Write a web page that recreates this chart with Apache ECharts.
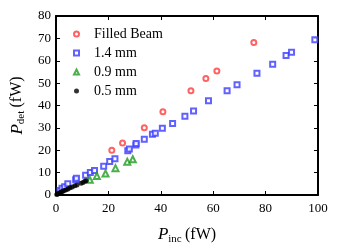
<!DOCTYPE html>
<html><head><meta charset="utf-8">
<script src="https://cdn.jsdelivr.net/npm/echarts@6/dist/echarts.min.js"></script>
<style>html,body{margin:0;padding:0;background:#fff}#c{width:338px;height:252px}</style>
</head><body><div id="c"></div>
<script>
const seriesNames = ['Filled Beam', '1.4 mm', '0.9 mm', '0.5 mm'];
const filledBeam = [[21.3,20.0],[25.4,23.2],[33.7,30.1],[40.8,37.2],[51.5,46.6],[57.2,52.1],[61.4,55.4],[75.5,68.2]];
const mm14 = [[1.5,2.0],[2.3,3.0],[3.3,3.7],[4.5,5.0],[7.5,6.8],[7.8,7.5],[11.3,8.8],[13.1,10.1],[14.7,11.0],[18.2,12.8],[20.5,15.0],[22.5,16.2],[27.4,19.8],[28.0,20.6],[30.5,22.3],[30.6,23.0],[33.7,24.9],[36.8,27.1],[37.9,27.6],[40.6,29.8],[44.5,32.0],[49.2,35.2],[52.5,37.5],[58.2,42.1],[65.3,46.6],[69.1,49.3],[76.7,54.4],[82.7,58.4],[87.8,62.4],[89.9,63.8],[98.8,69.4]];
const mm09 = [[12.9,6.8],[15.6,8.5],[18.9,9.6],[22.7,12.0],[27.2,14.9],[29.3,16.0]];
const mm05 = [[0.3,0.2],[0.6,0.4],[1.0,0.7],[1.5,1.0],[2.0,1.3],[2.6,1.7],[3.2,2.0],[3.9,2.4],[4.6,2.7],[5.4,3.2],[6.2,3.6],[7.2,4.1],[8.0,4.5],[9.6,5.2],[10.3,5.6],[11.0,6.1],[11.5,6.4]];
const xRange = [0, 100, 20];
const yRange = [0, 80, 10];

const font = 'Liberation Serif';
const chart = echarts.init(document.getElementById('c'));
const axisCommon = {
  axisLine:{show:true, onZero:false, lineStyle:{color:'#000', width:2}},
  axisTick:{show:true, inside:true, length:4, lineStyle:{color:'#000', width:1}},
  splitLine:{show:false}
};
chart.setOption({
  animation:false,
  backgroundColor:'#fff',
  grid:{left:56, right:20, top:16, bottom:57, containLabel:false},
  legend:{
    orient:'vertical', left:73, top:27, padding:0, itemGap:5, itemWidth:5, itemHeight:5,
    textStyle:{fontFamily:font, fontSize:14, color:'#000', padding:[0,0,0,10]},
    data:seriesNames
  },
  xAxis:[
    Object.assign({type:'value', min:xRange[0], max:xRange[1], interval:xRange[2], position:'bottom',
      axisLabel:{fontFamily:font, fontSize:13, color:'#000', margin:7},
      name:'{i|P}{s|inc} {u|(fW)}', nameLocation:'middle', nameGap:30,
      nameTextStyle:{rich:{
        i:{fontFamily:font, fontStyle:'italic', fontSize:17, color:'#000'},
        s:{fontFamily:font, fontSize:11, color:'#000', padding:[9,0,0,0]},
        u:{fontFamily:font, fontSize:16, color:'#000'}
      }}
    }, axisCommon),
    Object.assign({type:'value', min:xRange[0], max:xRange[1], interval:xRange[2], position:'top',
      axisLabel:{show:false}}, axisCommon)
  ],
  yAxis:[
    Object.assign({type:'value', min:yRange[0], max:yRange[1], interval:yRange[2], position:'left',
      axisLabel:{fontFamily:font, fontSize:13, color:'#000', margin:5},
      name:'{i|P}{s|det} {u|(fW)}', nameLocation:'middle', nameGap:27, nameRotate:90,
      nameTextStyle:{rich:{
        i:{fontFamily:font, fontStyle:'italic', fontSize:17, color:'#000'},
        s:{fontFamily:font, fontSize:11, color:'#000', padding:[9,0,0,0]},
        u:{fontFamily:font, fontSize:16, color:'#000'}
      }}
    }, axisCommon),
    Object.assign({type:'value', min:yRange[0], max:yRange[1], interval:yRange[2], position:'right',
      axisLabel:{show:false}}, axisCommon)
  ],
  series:[
    {name:seriesNames[0], type:'scatter', data:filledBeam, symbol:'emptyCircle', symbolSize:5,
      itemStyle:{color:'#ff3b3b', borderWidth:1}},
    {name:seriesNames[1], type:'scatter', data:mm14, symbol:'emptyRect', symbolSize:5,
      itemStyle:{color:'#3a3aff', borderWidth:1}},
    {name:seriesNames[2], type:'scatter', data:mm09, symbol:'emptyTriangle', symbolSize:6,
      itemStyle:{color:'#1f9a1f', borderWidth:1}},
    {name:seriesNames[3], type:'scatter', data:mm05, symbol:'circle', symbolSize:5,
      itemStyle:{color:'#000'}}
  ]
});
</script></body></html>
